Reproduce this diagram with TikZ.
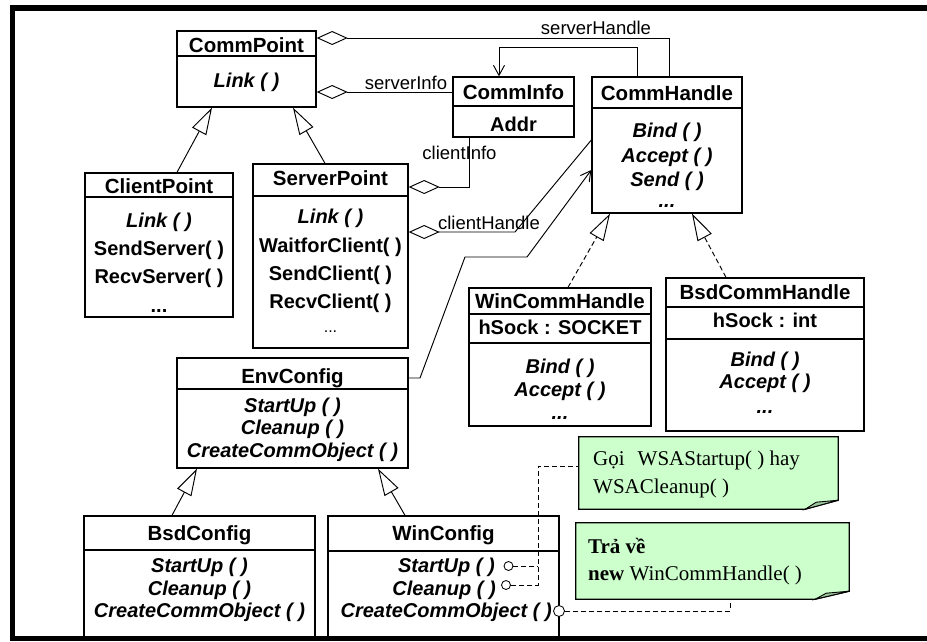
\documentclass[tikz,border=0pt]{standalone}
\usepackage{fontspec}
\setmainfont{Liberation Serif}
\setsansfont{Liberation Sans}
\usetikzlibrary{arrows.meta,fit}

\definecolor{notegreen}{HTML}{CCFFCC}
\definecolor{foldgreen}{HTML}{9CC79C}

\tikzset{
  box/.style={draw, line width=1.35pt, inner sep=0pt, fill=white},
  divider/.style={line width=1.35pt},
  ttl/.style={anchor=base, inner sep=0pt, font=\sffamily\bfseries\fontsize{20.5}{24}\selectfont},
  mth/.style={anchor=base, inner sep=0pt, font=\sffamily\bfseries\itshape\fontsize{20}{24}\selectfont},
  opr/.style={anchor=base, inner sep=0pt, font=\sffamily\bfseries\fontsize{20}{24}\selectfont},
  lbl/.style={anchor=base, inner sep=0pt, font=\sffamily\fontsize{18.5}{22}\selectfont},
  smalltxt/.style={anchor=base, inner sep=0pt, font=\sffamily\fontsize{16}{20}\selectfont},
  conn/.style={line width=0.95pt},
  gen/.style={conn, -{Triangle[open, length=27pt, width=16pt]}},
  real/.style={gen, dash pattern=on 5pt off 3pt},
  agg/.style={conn, {Diamond[open, length=31pt, width=14pt]}-},
  nav/.style={conn, -{Straight Barb[length=10pt, width=11pt]}},
  notelink/.style={line width=0.85pt, dash pattern=on 5pt off 3pt},
  notebox/.style={draw, line width=1.3pt, fill=notegreen},
  notefold/.style={draw, line width=0.9pt, fill=foldgreen},
  notetxt/.style={anchor=base west, inner sep=0pt, font=\rmfamily\fontsize{21}{24}\selectfont},
  port/.style={circle, draw, line width=0.85pt, fill=white, inner sep=0pt, minimum size=9pt},
}

\begin{document}
\begin{tikzpicture}[x=1pt, y=-1pt]
\fill[white] (0,0) rectangle (927,641);
\useasboundingbox (0,0) rectangle (927,641);

% ---------- CommPoint ----------
\node[box, fit={(177,31) (316,107)}] (commpoint) {};
\draw[divider] (commpoint.west |- 0,56) -- (commpoint.east |- 0,56);
\node[ttl] (commpoint-n) at (commpoint.center |- 0,52.5) {CommPoint};
\node[mth] (commpoint-1) at (commpoint.center |- 0,87) {Link ( )};

% ---------- CommInfo ----------
\node[box, fit={(453,77) (574,137)}] (comminfo) {};
\draw[divider] (comminfo.west |- 0,106) -- (comminfo.east |- 0,106);
\node[ttl] (comminfo-n) at (comminfo.center |- 0,99) {CommInfo};
\node[opr] (comminfo-1) at (comminfo.center |- 0,131) {Addr};

% ---------- CommHandle ----------
\node[box, fit={(592,77) (742,213)}] (commhandle) {};
\draw[divider] (commhandle.west |- 0,108) -- (commhandle.east |- 0,108);
\node[ttl] (commhandle-n) at (commhandle.center |- 0,100) {CommHandle};
\node[mth] (commhandle-1) at (commhandle.center |- 0,137) {Bind ( )};
\node[mth] (commhandle-2) at (commhandle.center |- 0,162) {Accept ( )};
\node[mth] (commhandle-3) at (commhandle.center |- 0,186) {Send ( )};
\node[mth] (commhandle-4) at (commhandle.center |- 0,207) {...};

% ---------- ClientPoint ----------
\node[box, fit={(85,173) (233,317)}] (clientpoint) {};
\draw[divider] (clientpoint.west |- 0,197) -- (clientpoint.east |- 0,197);
\node[ttl] (clientpoint-n) at (clientpoint.center |- 0,193) {ClientPoint};
\node[mth] (clientpoint-1) at (clientpoint.center |- 0,227) {Link ( )};
\node[opr] (clientpoint-2) at (clientpoint.center |- 0,255) {SendServer( )};
\node[opr] (clientpoint-3) at (clientpoint.center |- 0,283) {RecvServer( )};
\node[opr] (clientpoint-4) at (clientpoint.center |- 0,312) {...};

% ---------- ServerPoint ----------
\node[box, fit={(253,164) (408,348)}] (serverpoint) {};
\draw[divider] (serverpoint.west |- 0,196) -- (serverpoint.east |- 0,196);
\node[ttl] (serverpoint-n) at (serverpoint.center |- 0,185) {ServerPoint};
\node[mth] (serverpoint-1) at (serverpoint.center |- 0,223) {Link ( )};
\node[opr] (serverpoint-2) at (serverpoint.center |- 0,252) {WaitforClient( )};
\node[opr] (serverpoint-3) at (serverpoint.center |- 0,280) {SendClient( )};
\node[opr] (serverpoint-4) at (serverpoint.center |- 0,308) {RecvClient( )};
\node[smalltxt] (serverpoint-5) at (serverpoint.center |- 0,332) {...};

% ---------- EnvConfig ----------
\node[box, fit={(177,358) (408,468)}] (envconfig) {};
\draw[divider] (envconfig.west |- 0,389) -- (envconfig.east |- 0,389);
\node[ttl] (envconfig-n) at (envconfig.center |- 0,383) {EnvConfig};
\node[mth] (envconfig-1) at (envconfig.center |- 0,412) {StartUp ( )};
\node[mth] (envconfig-2) at (envconfig.center |- 0,434) {Cleanup ( )};
\node[mth] (envconfig-3) at (envconfig.center |- 0,457) {CreateCommObject ( )};

% ---------- WinCommHandle ----------
\node[box, fit={(469,288) (651,426)}] (wincommhandle) {};
\draw[divider] (wincommhandle.west |- 0,314) -- (wincommhandle.east |- 0,314);
\draw[divider] (wincommhandle.west |- 0,343) -- (wincommhandle.east |- 0,343);
\node[ttl] (wincommhandle-n) at (wincommhandle.center |- 0,308) {WinCommHandle};
\node[opr] (wincommhandle-a) at (wincommhandle.center |- 0,334) {hSock : SOCKET};
\node[mth] (wincommhandle-1) at (wincommhandle.center |- 0,373) {Bind ( )};
\node[mth] (wincommhandle-2) at (wincommhandle.center |- 0,396) {Accept ( )};
\node[mth] (wincommhandle-3) at (wincommhandle.center |- 0,419) {...};

% ---------- BsdCommHandle ----------
\node[box, fit={(666,278) (864,431)}] (bsdcommhandle) {};
\draw[divider] (bsdcommhandle.west |- 0,307) -- (bsdcommhandle.east |- 0,307);
\draw[divider] (bsdcommhandle.west |- 0,339) -- (bsdcommhandle.east |- 0,339);
\node[ttl] (bsdcommhandle-n) at (bsdcommhandle.center |- 0,299) {BsdCommHandle};
\node[opr] (bsdcommhandle-a) at (bsdcommhandle.center |- 0,327) {hSock : int};
\node[mth] (bsdcommhandle-1) at (bsdcommhandle.center |- 0,366) {Bind ( )};
\node[mth] (bsdcommhandle-2) at (bsdcommhandle.center |- 0,388) {Accept ( )};
\node[mth] (bsdcommhandle-3) at (bsdcommhandle.center |- 0,413) {...};

% ---------- BsdConfig ----------
\node[box, fit={(84,516) (315,640)}] (bsdconfig) {};
\draw[divider] (bsdconfig.west |- 0,550) -- (bsdconfig.east |- 0,550);
\node[ttl] (bsdconfig-n) at (bsdconfig.center |- 0,540) {BsdConfig};
\node[mth] (bsdconfig-1) at (bsdconfig.center |- 0,572) {StartUp ( )};
\node[mth] (bsdconfig-2) at (bsdconfig.center |- 0,595) {Cleanup ( )};
\node[mth] (bsdconfig-3) at (bsdconfig.center |- 0,617) {CreateCommObject ( )};

% ---------- WinConfig ----------
\node[box, fit={(328,516) (559,640)}] (winconfig) {};
\draw[divider] (winconfig.west |- 0,551) -- (winconfig.east |- 0,551);
\node[ttl] (winconfig-n) at (winconfig.center |- 0,540) {WinConfig};
\node[mth, anchor=base east] (winconfig-1) at (495,572) {StartUp ( )};
\node[mth, anchor=base east] (winconfig-2) at (496,595) {Cleanup ( )};
\node[mth, anchor=base east] (winconfig-3) at (552,617) {CreateCommObject ( )};

% ---------- generalisation / realisation ----------
\draw[gen] (177,0 |- clientpoint.north) -- (212,0 |- commpoint.south);
\draw[gen] (325,0 |- serverpoint.north) -- (293,0 |- commpoint.south);
\draw[gen] (172,0 |- bsdconfig.north) -- (197,0 |- envconfig.south);
\draw[gen] (405,0 |- winconfig.north) -- (378,0 |- envconfig.south);
\draw[real] (568,0 |- wincommhandle.north) -- (610,0 |- commhandle.south);
\draw[real] (726,0 |- bsdcommhandle.north) -- (692,0 |- commhandle.south);

% ---------- associations ----------
\draw[agg] (commpoint.east |- 0,38) -| (669,0 |- commhandle.north);
\node[lbl] (lab-sh) at (596,34) {serverHandle};

\draw[agg] (commpoint.east |- 0,92) -- (comminfo.west |- 0,92);
\node[lbl] (lab-si) at (406,89.5) {serverInfo};

\draw[nav] (637,0 |- commhandle.north) |- (499,47) -- (499,0 |- comminfo.north);

\draw[agg] (serverpoint.east |- 0,187) -| (469,0 |- comminfo.south);
\node[lbl] (lab-ci) at (459.5,159) {clientInfo};

\draw[agg] (serverpoint.east |- 0,232) -- (515,232) -- (commhandle.west |- 0,140);
\node[lbl] (lab-ch) at (489,229) {clientHandle};

\draw[nav] (envconfig.east |- 0,378) -- (420,378) -- (465,257) -- (527,257) -- (commhandle.west |- 0,170);

% ---------- notes ----------
\node[fit={(579,437) (838,509)}, inner sep=0pt] (note1) {};
\draw[notebox] (note1.north west) -- (note1.north east) -- ([yshift=9pt]note1.south east)
  -- ([xshift=-33pt]note1.south east) -- (note1.south west) -- cycle;
\draw[notefold] ([xshift=-33pt]note1.south east) -- ([yshift=9pt]note1.south east)
  -- ([xshift=-22pt,yshift=7pt]note1.south east) -- cycle;
\node[notetxt] (note1-a) at (593,465) {Gọi\hspace{13pt}WSAStartup( ) hay};
\node[notetxt] (note1-b) at (593,493) {WSACleanup( )};

\node[fit={(576,523) (849,599)}, inner sep=0pt] (note2) {};
\draw[notebox] (note2.north west) -- (note2.north east) -- ([yshift=8pt]note2.south east)
  -- ([xshift=-34pt]note2.south east) -- (note2.south west) -- cycle;
\draw[notefold] ([xshift=-34pt]note2.south east) -- ([yshift=8pt]note2.south east)
  -- ([xshift=-23pt,yshift=6pt]note2.south east) -- cycle;
\node[notetxt] (note2-a) at (588,553) {\textbf{Trả về}};
\node[notetxt] (note2-b) at (588,580) {\textbf{new} WinCommHandle( )};

% ---------- note attachments ----------
\node[port] (p-start) at (508.5,566) {};
\node[port] (p-clean) at (506,585) {};
\node[port, minimum size=11pt] (p-create) at (559,611) {};
\draw[notelink] (p-start.east) -- (538,0 |- p-start.east);
\draw[notelink] (p-clean.east) -| (538,466) -- (note1.west |- 0,466);
\draw[notelink] (p-create.east) -| (730,0 |- note2.south);

% ---------- frame ----------
\fill[black] (10,5) rectangle (927,11);
\fill[black] (10,5) rectangle (15,641);
\fill[black] (10,636) rectangle (927,641);
\end{tikzpicture}
\end{document}
